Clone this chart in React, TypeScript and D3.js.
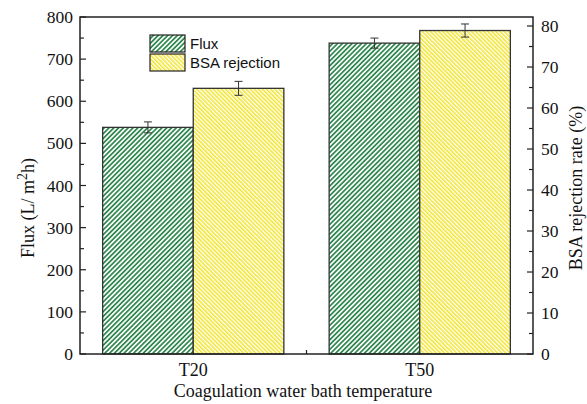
import React from 'react';
import * as d3 from 'd3';

// values
const categories = ['T20', 'T50'];
const fluxValues = [538, 738];
const fluxErrors = [13, 12];
const bsaValues = [64.8, 78.9];
const bsaErrors = [1.7, 1.6];
const leftTicks = [0, 100, 200, 300, 400, 500, 600, 700, 800];
const rightTicks = [0, 10, 20, 30, 40, 50, 60, 70, 80];

const W = 587;
const H = 404;
const margin = { top: 17, right: 54, bottom: 50, left: 80 };
const serif = '"Liberation Serif", "Times New Roman", serif';
const sans = '"Liberation Sans", Arial, sans-serif';

const App = () => {
  const x = d3
    .scaleLinear()
    .domain([0.5, categories.length + 0.5])
    .range([margin.left, W - margin.right]);
  const yL = d3
    .scaleLinear()
    .domain([0, 800])
    .range([H - margin.bottom, margin.top]);
  const yR = d3
    .scaleLinear()
    .domain([0, 82.2])
    .range([H - margin.bottom, margin.top]);

  const barW = 0.4;
  const x0 = margin.left;
  const x1 = W - margin.right;
  const y0 = H - margin.bottom;
  const y1 = margin.top;

  const leftMinor = d3.range(50, 800, 100);
  const rightMinor = d3.range(5, 80, 10);

  const errBar = (cx, ylo, yhi, key) => (
    <g key={key} stroke="#333" strokeWidth={1}>
      <line x1={cx} x2={cx} y1={ylo} y2={yhi} />
      <line x1={cx - 4} x2={cx + 4} y1={ylo} y2={ylo} />
      <line x1={cx - 4} x2={cx + 4} y1={yhi} y2={yhi} />
    </g>
  );

  return (
    <svg width={W} height={H} style={{ position: 'absolute', left: 0, top: 0 }}>
      <defs>
        <pattern id="greenHatch" width={3.4} height={10} patternUnits="userSpaceOnUse" patternTransform="rotate(45)">
          <rect width={3.4} height={10} fill="#fff" />
          <line x1={0.9} x2={0.9} y1={0} y2={10} stroke="#2a8549" strokeWidth={1.7} />
        </pattern>
        <pattern id="yellowHatch" width={2.9} height={10} patternUnits="userSpaceOnUse" patternTransform="rotate(-45)">
          <rect width={2.9} height={10} fill="#fff" />
          <line x1={0.8} x2={0.8} y1={0} y2={10} stroke="#f0e21c" strokeWidth={1.4} />
        </pattern>
      </defs>

      {/* x ticks (inward) */}
      {d3.range(1, categories.length + 0.01, 0.5).map((t) => (
        <line key={'xt' + t} x1={x(t)} x2={x(t)} y1={y0} y2={y0 - (t % 1 === 0 ? 6 : 4)} stroke="#222" strokeWidth={1.2} />
      ))}

      {/* bars */}
      {categories.map((c, i) => (
        <g key={c}>
          <rect
            x={x(i + 1 - barW)}
            y={yL(fluxValues[i])}
            width={x(i + 1) - x(i + 1 - barW)}
            height={y0 - yL(fluxValues[i])}
            fill="url(#greenHatch)"
            stroke="#333"
            strokeWidth={1.3}
          />
          <rect
            x={x(i + 1)}
            y={yR(bsaValues[i])}
            width={x(i + 1 + barW) - x(i + 1)}
            height={y0 - yR(bsaValues[i])}
            fill="url(#yellowHatch)"
            stroke="#333"
            strokeWidth={1.3}
          />
          {errBar(x(i + 1 - barW / 2), yL(fluxValues[i] - fluxErrors[i]), yL(fluxValues[i] + fluxErrors[i]), 'ef' + i)}
          {errBar(x(i + 1 + barW / 2), yR(bsaValues[i] - bsaErrors[i]), yR(bsaValues[i] + bsaErrors[i]), 'eb' + i)}
        </g>
      ))}

      {/* left axis ticks */}
      {leftTicks.map((t) => (
        <g key={'l' + t}>
          <line x1={x0} x2={x0 + 6} y1={yL(t)} y2={yL(t)} stroke="#222" strokeWidth={1.2} />
          <text x={x0 - 7} y={yL(t) + 6} textAnchor="end" fontFamily={serif} fontSize={17.5} fill="#111">
            {t}
          </text>
        </g>
      ))}
      {leftMinor.map((t) => (
        <line key={'lm' + t} x1={x0} x2={x0 + 4} y1={yL(t)} y2={yL(t)} stroke="#222" strokeWidth={1.2} />
      ))}

      {/* right axis ticks */}
      {rightTicks.map((t) => (
        <g key={'r' + t}>
          <line x1={x1} x2={x1 - 6} y1={yR(t)} y2={yR(t)} stroke="#222" strokeWidth={1.2} />
          <text x={x1 + 8} y={yR(t) + 6} textAnchor="start" fontFamily={serif} fontSize={17.5} fill="#111">
            {t}
          </text>
        </g>
      ))}
      {rightMinor.map((t) => (
        <line key={'rm' + t} x1={x1} x2={x1 - 4} y1={yR(t)} y2={yR(t)} stroke="#222" strokeWidth={1.2} />
      ))}

      {/* frame */}
      <rect x={x0} y={y1} width={x1 - x0} height={y0 - y1} fill="none" stroke="#222" strokeWidth={1.5} />

      {/* category labels */}
      {categories.map((c, i) => (
        <text key={'c' + c} x={x(i + 1)} y={y0 + 22} textAnchor="middle" fontFamily={serif} fontSize={18} fill="#111">
          {c}
        </text>
      ))}

      {/* axis titles */}
      <text x={303} y={H - 7} textAnchor="middle" fontFamily={serif} fontSize={18} fill="#111">
        Coagulation water bath temperature
      </text>
      <text transform={`translate(34, 208) rotate(-90)`} textAnchor="middle" fontFamily={serif} fontSize={18} fill="#111">
        Flux (L/ m<tspan dy={-7} fontSize={14}>2</tspan>
        <tspan dy={7}>h)</tspan>
      </text>
      <text transform={`translate(582, 188) rotate(-90)`} textAnchor="middle" fontFamily={serif} fontSize={18} fill="#111">
        BSA rejection rate (%)
      </text>

      {/* legend */}
      <rect x={150} y={35} width={35} height={17} fill="url(#greenHatch)" stroke="#222" strokeWidth={1.2} />
      <rect x={150} y={54} width={35} height={17} fill="url(#yellowHatch)" stroke="#222" strokeWidth={1.2} />
      <text x={190} y={49} fontFamily={sans} fontSize={15} fill="#111">
        Flux
      </text>
      <text x={190} y={68} fontFamily={sans} fontSize={15} fill="#111">
        BSA rejection
      </text>
    </svg>
  );
};

export default App;
